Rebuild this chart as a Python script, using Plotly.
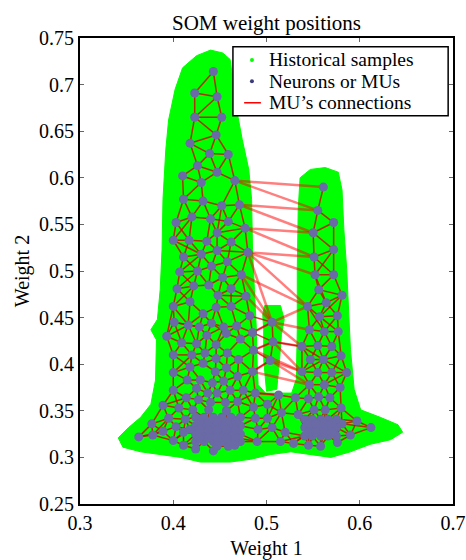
import numpy as np
import plotly.graph_objects as go

# ---------------- data ----------------
# outline of the historical-sample cloud (Weight 1, Weight 2)
sample_outline = [
    (0.425, 0.731), (0.440, 0.737), (0.453, 0.734), (0.461, 0.727), (0.464, 0.705),
    (0.468, 0.673), (0.474, 0.641), (0.481, 0.609), (0.484, 0.577), (0.485, 0.523),
    (0.487, 0.480), (0.489, 0.440), (0.490, 0.400), (0.491, 0.378), (0.499, 0.369),
    (0.527, 0.369), (0.532, 0.384), (0.533, 0.437), (0.533, 0.502),
    (0.534, 0.566), (0.536, 0.600), (0.547, 0.609), (0.563, 0.611), (0.577, 0.606),
    (0.581, 0.587), (0.583, 0.544), (0.586, 0.502), (0.588, 0.459), (0.590, 0.416),
    (0.594, 0.373), (0.601, 0.351), (0.622, 0.343), (0.641, 0.335), (0.646, 0.327),
    (0.633, 0.319), (0.611, 0.314), (0.590, 0.306), (0.569, 0.300), (0.547, 0.303),
    (0.526, 0.306), (0.504, 0.303), (0.483, 0.298), (0.461, 0.295), (0.429, 0.295),
    (0.408, 0.300), (0.386, 0.303), (0.365, 0.306), (0.346, 0.311), (0.341, 0.321),
    (0.352, 0.332), (0.365, 0.343), (0.376, 0.357), (0.381, 0.383), (0.382, 0.426),
    (0.376, 0.437), (0.383, 0.448), (0.386, 0.480), (0.388, 0.523), (0.389, 0.577),
    (0.392, 0.630), (0.395, 0.662), (0.402, 0.695), (0.410, 0.718),
]
# green strip of samples standing inside the gap between the peaks
sample_island = [
    (0.498, 0.463), (0.515, 0.463), (0.519, 0.448), (0.516, 0.432), (0.514, 0.405),
    (0.511, 0.373), (0.500, 0.371), (0.497, 0.405), (0.497, 0.437), (0.496, 0.453),
]

# neurons (MUs) of the left peak
neurons_left_upper = [
    (0.443, 0.714), (0.423, 0.691), (0.447, 0.687), (0.423, 0.665), (0.452, 0.665),
    (0.446, 0.646), (0.418, 0.637), (0.439, 0.626), (0.459, 0.625), (0.426, 0.613),
    (0.410, 0.602), (0.430, 0.595), (0.447, 0.606), (0.466, 0.597), (0.411, 0.577),
    (0.432, 0.575), (0.452, 0.570), (0.471, 0.571), (0.403, 0.552), (0.420, 0.558),
    (0.440, 0.556), (0.459, 0.553), (0.477, 0.546), (0.400, 0.533), (0.417, 0.533),
    (0.447, 0.541), (0.436, 0.532), (0.462, 0.531), (0.411, 0.515), (0.430, 0.518),
    (0.447, 0.522), (0.458, 0.510), (0.480, 0.520), (0.407, 0.499), (0.426, 0.500),
    (0.441, 0.505), (0.453, 0.493), (0.473, 0.496), (0.404, 0.481), (0.422, 0.484),
    (0.438, 0.485), (0.462, 0.481), (0.448, 0.474), (0.478, 0.473), (0.400, 0.462),
    (0.418, 0.467), (0.432, 0.454), (0.446, 0.461), (0.462, 0.462), (0.482, 0.452),
]
neurons_left_lower = [
    (0.401, 0.445), (0.416, 0.442), (0.428, 0.440), (0.441, 0.444), (0.454, 0.440),
    (0.468, 0.441), (0.393, 0.430), (0.409, 0.423), (0.425, 0.422), (0.436, 0.431),
    (0.446, 0.421), (0.457, 0.433), (0.472, 0.427), (0.485, 0.434), (0.400, 0.410),
    (0.420, 0.410), (0.434, 0.412), (0.446, 0.406), (0.458, 0.412), (0.470, 0.405),
    (0.486, 0.415), (0.400, 0.391), (0.418, 0.397), (0.432, 0.401), (0.445, 0.392),
    (0.457, 0.396), (0.469, 0.387), (0.485, 0.392), (0.415, 0.383), (0.429, 0.383),
    (0.442, 0.380), (0.454, 0.382), (0.400, 0.372), (0.414, 0.364), (0.425, 0.374),
    (0.437, 0.369), (0.447, 0.369), (0.461, 0.372), (0.475, 0.372), (0.488, 0.369),
    (0.389, 0.356), (0.406, 0.353), (0.421, 0.351), (0.427, 0.362), (0.440, 0.359),
    (0.456, 0.359), (0.469, 0.360), (0.486, 0.354), (0.377, 0.336), (0.395, 0.342),
    (0.403, 0.333), (0.413, 0.341), (0.363, 0.322), (0.378, 0.324), (0.389, 0.328),
    (0.400, 0.318), (0.411, 0.327), (0.411, 0.313), (0.424, 0.309), (0.443, 0.307),
    (0.459, 0.312),
]
# dense MU cluster at the foot of the left peak
neurons_left_cluster = [
    (0.424, 0.343), (0.433, 0.343), (0.443, 0.343), (0.452, 0.343), (0.462, 0.343), (0.472, 0.343),
    (0.424, 0.334), (0.433, 0.334), (0.443, 0.334), (0.452, 0.334), (0.462, 0.334), (0.472, 0.334),
    (0.424, 0.325), (0.433, 0.325), (0.443, 0.325), (0.452, 0.325), (0.462, 0.325), (0.472, 0.325),
    (0.424, 0.317), (0.433, 0.317), (0.443, 0.317), (0.452, 0.317), (0.462, 0.317), (0.472, 0.317),
    (0.428, 0.338), (0.438, 0.338), (0.447, 0.338), (0.457, 0.338), (0.467, 0.338),
    (0.428, 0.329), (0.438, 0.329), (0.447, 0.329), (0.457, 0.329), (0.467, 0.329),
    (0.428, 0.321), (0.438, 0.321), (0.447, 0.321), (0.457, 0.321), (0.467, 0.321),
    (0.438, 0.351), (0.457, 0.350), (0.447, 0.312), (0.466, 0.313), (0.418, 0.330),
]
# neurons of the right peak
neurons_right = [
    (0.561, 0.590), (0.555, 0.565), (0.572, 0.552), (0.550, 0.541), (0.572, 0.523),
    (0.551, 0.515), (0.572, 0.496), (0.552, 0.496), (0.556, 0.480), (0.581, 0.474),
    (0.564, 0.466), (0.544, 0.462), (0.576, 0.452), (0.557, 0.451), (0.546, 0.437),
    (0.562, 0.435), (0.577, 0.435), (0.538, 0.419), (0.555, 0.420), (0.570, 0.419),
    (0.547, 0.405), (0.561, 0.405), (0.580, 0.409), (0.538, 0.392), (0.555, 0.391),
    (0.570, 0.391), (0.586, 0.391), (0.546, 0.378), (0.562, 0.378), (0.579, 0.375),
]
neurons_gap_and_foot = [
    (0.506, 0.445), (0.507, 0.424), (0.504, 0.404), (0.513, 0.367), (0.531, 0.364),
    (0.545, 0.363), (0.556, 0.365), (0.568, 0.364), (0.501, 0.357), (0.516, 0.348),
    (0.534, 0.346), (0.551, 0.351), (0.563, 0.351), (0.580, 0.353), (0.597, 0.339),
    (0.612, 0.332), (0.590, 0.324), (0.581, 0.336), (0.488, 0.342), (0.501, 0.342),
    (0.491, 0.330), (0.506, 0.332), (0.520, 0.327), (0.490, 0.317), (0.515, 0.317),
    (0.529, 0.315), (0.545, 0.313), (0.558, 0.312), (0.576, 0.316),
]
neurons_right_cluster = [
    (0.541, 0.341), (0.549, 0.341), (0.558, 0.341), (0.566, 0.341), (0.575, 0.341),
    (0.541, 0.332), (0.549, 0.332), (0.558, 0.332), (0.566, 0.332), (0.575, 0.332),
    (0.541, 0.323), (0.549, 0.323), (0.558, 0.323), (0.566, 0.323), (0.575, 0.323),
    (0.545, 0.336), (0.553, 0.336), (0.562, 0.336), (0.570, 0.336),
    (0.545, 0.327), (0.553, 0.327), (0.562, 0.327), (0.570, 0.327),
]
# long MU connections bridging the gap between the two peaks
bridge_connections = [
    ((0.466, 0.597), (0.561, 0.590)), ((0.466, 0.597), (0.555, 0.565)),
    ((0.471, 0.571), (0.555, 0.565)), ((0.471, 0.571), (0.550, 0.541)),
    ((0.477, 0.546), (0.550, 0.541)), ((0.477, 0.546), (0.551, 0.515)),
    ((0.480, 0.520), (0.551, 0.515)), ((0.480, 0.520), (0.552, 0.496)),
    ((0.480, 0.520), (0.544, 0.462)), ((0.473, 0.496), (0.544, 0.462)),
    ((0.478, 0.473), (0.506, 0.445)), ((0.480, 0.520), (0.506, 0.445)),
    ((0.473, 0.496), (0.506, 0.445)), ((0.506, 0.445), (0.544, 0.462)),
    ((0.506, 0.445), (0.546, 0.437)), ((0.506, 0.445), (0.538, 0.419)),
    ((0.507, 0.424), (0.538, 0.419)), ((0.507, 0.424), (0.538, 0.392)),
    ((0.504, 0.404), (0.538, 0.392)), ((0.504, 0.404), (0.546, 0.378)),
    ((0.486, 0.415), (0.507, 0.424)), ((0.485, 0.392), (0.504, 0.404)),
    ((0.488, 0.369), (0.513, 0.367)), ((0.485, 0.434), (0.506, 0.445)),
    ((0.486, 0.415), (0.538, 0.392)), ((0.485, 0.392), (0.546, 0.378)),
]

legend_labels = ["Historical samples", "Neurons or MUs", "MU\u2019s connections"]
x_ticks = [0.3, 0.4, 0.5, 0.6, 0.7]
x_tick_text = ["0.3", "0.4", "0.5", "0.6", "0.7"]
y_ticks = [0.25, 0.3, 0.35, 0.4, 0.45, 0.5, 0.55, 0.6, 0.65, 0.7, 0.75]
y_tick_text = ["0.25", "0.3", "0.35", "0.4", "0.45", "0.5", "0.55", "0.6", "0.65", "0.7", "0.75"]

# ---------------- build ----------------
FONT = "Times New Roman, Liberation Serif, serif"
GREEN = "#00ff00"
PURPLE = "#6a6aa6"

neurons = (neurons_left_upper + neurons_left_lower + neurons_left_cluster
           + neurons_right + neurons_gap_and_foot + neurons_right_cluster)
pts = np.array(neurons)

# SOM topology: link each unit to its nearest neighbours
d = np.sqrt(((pts[:, None, :] - pts[None, :, :]) ** 2).sum(-1))
edges = set()
for i in range(len(pts)):
    for j in np.argsort(d[i])[1:6]:
        if d[i, j] < 0.034:
            edges.add((min(i, int(j)), max(i, int(j))))
ex, ey = [], []
for i, j in sorted(edges):
    ex += [pts[i, 0], pts[j, 0], None]
    ey += [pts[i, 1], pts[j, 1], None]
bx, by = [], []
for (a, b) in bridge_connections:
    bx += [a[0], b[0], None]
    by += [a[1], b[1], None]

fig = go.Figure()
ox = [p[0] for p in sample_outline] + [sample_outline[0][0], None] \
    + [p[0] for p in sample_island] + [sample_island[0][0]]
oy = [p[1] for p in sample_outline] + [sample_outline[0][1], None] \
    + [p[1] for p in sample_island] + [sample_island[0][1]]
fig.add_trace(go.Scatter(x=ox, y=oy, mode="lines", fill="toself", fillcolor=GREEN,
                         line=dict(color=GREEN, width=1), name=legend_labels[0],
                         showlegend=False, hoverinfo="skip"))
fig.add_trace(go.Scatter(x=bx, y=by, mode="lines", line=dict(color="rgba(255,0,0,0.5)", width=2.5),
                         name=legend_labels[2], showlegend=False, hoverinfo="skip"))
fig.add_trace(go.Scatter(x=ex, y=ey, mode="lines", line=dict(color="rgba(210,0,0,0.8)", width=1.5),
                         name=legend_labels[2], showlegend=False, hoverinfo="skip"))
fig.add_trace(go.Scatter(x=pts[:, 0], y=pts[:, 1], mode="markers", name=legend_labels[1],
                         marker=dict(color=PURPLE, size=9, line=dict(width=0)), showlegend=False))

# legend box drawn in paper coordinates (matches the compact reference legend)
L = dict(x0=0.410, x1=0.987, y0=0.833, y1=0.981)
row_y = [0.953, 0.907, 0.861]
shapes = [dict(type="rect", xref="paper", yref="paper", x0=L["x0"], x1=L["x1"], y0=L["y0"], y1=L["y1"],
               line=dict(color="black", width=1.5), fillcolor="white", layer="above")]
for col, yy in zip([GREEN, "#3c3c7a"], row_y[:2]):
    shapes.append(dict(type="circle", xref="paper", yref="paper", xsizemode="pixel", ysizemode="pixel",
                       xanchor=0.461, yanchor=yy, x0=-2, x1=2, y0=-2, y1=2,
                       fillcolor=col, line=dict(width=0), layer="above"))
shapes.append(dict(type="line", xref="paper", yref="paper", x0=0.440, x1=0.485, y0=row_y[2], y1=row_y[2],
                   line=dict(color="red", width=1.5), layer="above"))
annotations = [dict(text=t, xref="paper", yref="paper", x=0.501, y=yy, xanchor="left", yanchor="middle",
                    showarrow=False, font=dict(family=FONT, size=19.5, color="black"))
               for t, yy in zip(legend_labels, row_y)]

axis_common = dict(showline=True, linecolor="black", linewidth=2, mirror="ticks",
                   ticks="inside", ticklen=4, tickcolor="#666", tickwidth=1,
                   showgrid=False, zeroline=False, automargin=False,
                   tickfont=dict(family=FONT, size=20, color="black"))
fig.update_xaxes(range=[0.3, 0.7], tickvals=x_ticks, ticktext=x_tick_text,
                 title=dict(text="Weight 1", font=dict(family=FONT, size=20, color="black"), standoff=12),
                 **axis_common)
fig.update_yaxes(range=[0.25, 0.75], tickvals=y_ticks, ticktext=y_tick_text,
                 title=dict(text="Weight 2", font=dict(family=FONT, size=20, color="black"), standoff=4),
                 **axis_common)
fig.update_layout(
    width=466, height=560,
    margin=dict(l=80, r=13, t=38, b=56),
    paper_bgcolor="white", plot_bgcolor="white",
    title=dict(text="SOM weight positions", x=0.5, xref="paper", y=1 - 23 / 560, yref="container",
               xanchor="center", yanchor="middle", font=dict(family=FONT, size=21, color="black")),
    shapes=shapes, annotations=annotations,
    showlegend=False,
)
fig.write_html("out.html")
